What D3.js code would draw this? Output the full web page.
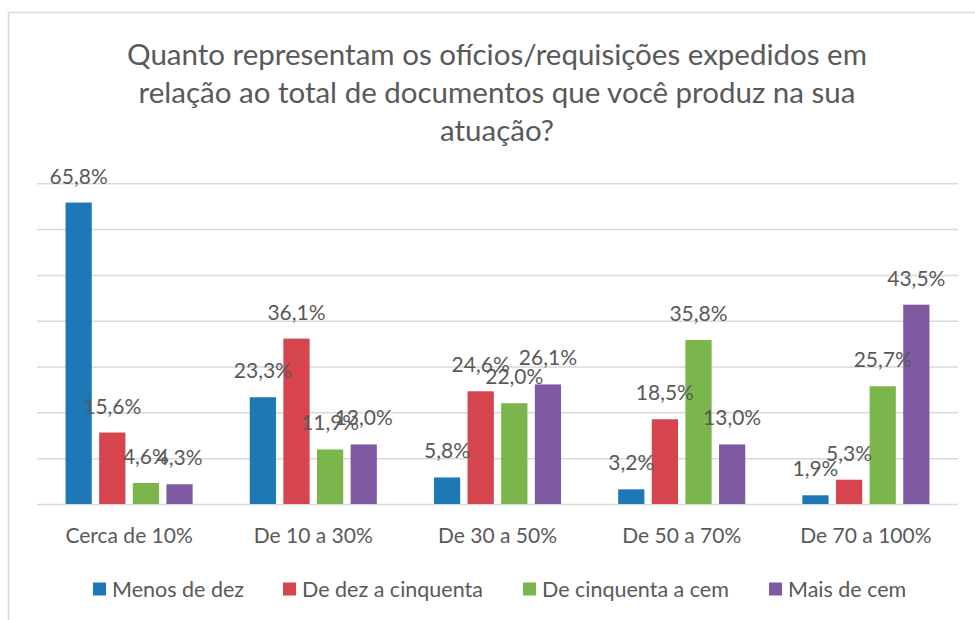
<!DOCTYPE html>
<html lang="pt">
<head>
<meta charset="UTF-8">
<title>Ofícios/requisições expedidos</title>
<style>
    body { margin: 0; background: #fff; }
    svg { display: block; font-family: Lato, "Open Sans", sans-serif; }
    .grid line { stroke: #d9d9d9; stroke-width: 1.5; }
    .grid path { display: none; }
    .axis--x path, .axis--x line { display: none; }
    .axis--x text { fill: #595959; font-size: 21px; font-family: Lato, sans-serif; }
    .label { fill: #595959; font-size: 21px; text-anchor: middle; }
    .title { fill: #595959; font-size: 29.5px; text-anchor: middle; }
    .legend text { fill: #595959; font-size: 21.5px; }
</style>
</head>
<body>
<svg></svg>
<script src="https://d3js.org/d3.v7.min.js"></script>
<script>

// data
const categories = ['Cerca de 10%', 'De 10 a 30%', 'De 30 a 50%', 'De 50 a 70%', 'De 70 a 100%'];
const seriesNames = ['Menos de dez', 'De dez a cinquenta', 'De cinquenta a cem', 'Mais de cem'];
const menosDeDez = [65.8, 23.3, 5.8, 3.2, 1.9];
const deDezACinquenta = [15.6, 36.1, 24.6, 18.5, 5.3];
const deCinquentaACem = [4.6, 11.9, 22.0, 35.8, 25.7];
const maisDeCem = [4.3, 13.0, 26.1, 13.0, 43.5];
const gridTicks = [0, 10, 20, 30, 40, 50, 60, 70];
const titleLines = [
    'Quanto representam os ofícios/requisições expedidos em',
    'relação ao total de documentos que você produz na sua',
    'atuação?'
];

const colors = ['#1f78b6', '#d6444e', '#7bb64c', '#7e5aa3'];

const W = 975, H = 620;
const svg = d3.select('svg').attr('width', W).attr('height', H);

// frame
svg.append('rect')
    .attr('x', 8.5).attr('y', 12.5)
    .attr('width', W).attr('height', H)
    .attr('fill', '#fff')
    .attr('stroke', '#d9d9d9')
    .attr('stroke-width', 1.5);

const plot = { left: 37, right: 958, top: 183.3, bottom: 504 };

const series = [menosDeDez, deDezACinquenta, deCinquentaACem, maisDeCem];
const rows = categories.map((c, i) => ({
    name: c,
    values: series.map((s, j) => ({ key: seriesNames[j], idx: j, value: s[i] }))
}));

const x0 = d3.scaleBand()
    .domain(categories)
    .range([plot.left, plot.right])
    .paddingInner(0.31)
    .paddingOuter(0.155);

const x1 = d3.scaleBand()
    .domain(seriesNames)
    .range([0, x0.bandwidth()])
    .paddingInner(0.22);

const y = d3.scaleLinear()
    .domain([0, 70])
    .range([plot.bottom, plot.top]);

// title
svg.append('g').selectAll('text')
    .data(titleLines)
    .enter().append('text')
    .attr('class', 'title')
    .attr('x', 497)
    .attr('y', (d, i) => 65 + i * 38)
    .text(d => d);

// gridlines
svg.append('g')
    .attr('class', 'grid')
    .attr('transform', `translate(${plot.left}, 0)`)
    .call(d3.axisLeft(y).tickValues(gridTicks).tickFormat('').tickSize(-(plot.right - plot.left)));

// bars
const groups = svg.append('g').selectAll('g')
    .data(rows)
    .enter().append('g')
    .attr('transform', d => `translate(${x0(d.name)}, 0)`);

groups.selectAll('rect')
    .data(d => d.values)
    .enter().append('rect')
    .attr('x', d => x1(d.key))
    .attr('y', d => y(d.value))
    .attr('width', x1.bandwidth())
    .attr('height', d => y(0) - y(d.value))
    .attr('fill', d => colors[d.idx]);

groups.selectAll('.label')
    .data(d => d.values)
    .enter().append('text')
    .attr('class', 'label')
    .attr('x', d => x1(d.key) + x1.bandwidth() / 2)
    .attr('y', d => y(d.value) - 19)
    .text(d => d3.format('.1f')(d.value).replace('.', ',') + '%');

// x axis labels
svg.append('g')
    .attr('class', 'axis axis--x')
    .attr('transform', `translate(0, ${plot.bottom})`)
    .call(d3.axisBottom(x0).tickSize(0))
    .selectAll('text')
    .attr('y', 39)
    .attr('dy', 0);

// legend
const legendX = [93, 283, 523, 769];
const legend = svg.append('g').attr('class', 'legend');
const item = legend.selectAll('g')
    .data(seriesNames)
    .enter().append('g')
    .attr('transform', (d, i) => `translate(${legendX[i]}, 589)`);

item.append('rect')
    .attr('x', 0).attr('y', -6.5)
    .attr('width', 13).attr('height', 13)
    .attr('fill', (d, i) => colors[i]);

item.append('text')
    .attr('x', 19)
    .attr('y', 7.5)
    .text(d => d);

</script>
</body>
</html>
